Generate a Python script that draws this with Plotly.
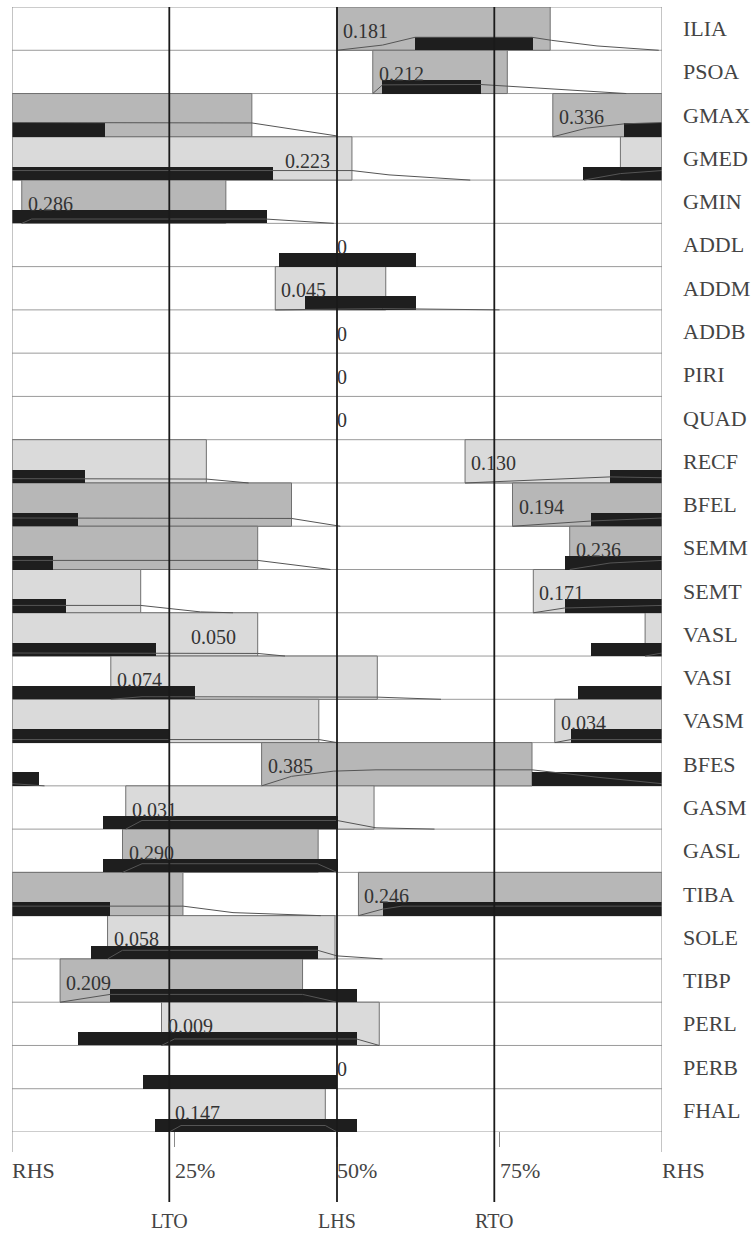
import plotly.graph_objects as go

# ---------------- data ----------------
muscles = ["ILIA", "PSOA", "GMAX", "GMED", "GMIN", "ADDL", "ADDM", "ADDB", "PIRI", "QUAD",
           "RECF", "BFEL", "SEMM", "SEMT", "VASL", "VASI", "VASM", "BFES", "GASM", "GASL",
           "TIBA", "SOLE", "TIBP", "PERL", "PERB", "FHAL"]

values = [0.181, 0.212, 0.336, 0.223, 0.286, 0, 0.045, 0, 0, 0,
          0.130, 0.194, 0.236, 0.171, 0.050, 0.074, 0.034, 0.385, 0.031, 0.290,
          0.246, 0.058, 0.209, 0.009, 0, 0.147]

significant = [1, 1, 1, 0, 1, 0, 0, 0, 0, 0,
               0, 1, 1, 0, 0, 0, 0, 1, 0, 1,
               1, 0, 1, 0, 0, 0]

# model activity interval (% of gait cycle); off < on means it wraps through 100 %
model_on = [50.0, 55.5, 83.2, 93.6, 1.5, None, 40.5, None, None, None,
            69.7, 77.0, 85.8, 80.2, 97.4, 15.2, 83.5, 38.4, 17.5, 17.0,
            53.3, 14.7, 7.4, 23.0, None, 24.2]
model_off = [82.8, 76.2, 36.9, 52.3, 32.9, None, 57.5, None, None, None,
             29.9, 43.0, 37.8, 19.8, 37.8, 56.2, 47.2, 80.0, 55.7, 47.1,
             26.3, 49.7, 44.7, 56.5, None, 48.2]

# EMG on/off interval (% of gait cycle)
emg_on = [62.0, 56.9, 94.2, 87.9, 0.0, 41.0, 45.1, None, None, None,
          92.0, 89.1, 85.0, 85.0, 89.1, 87.0, 86.0, 80.0, 14.0, 14.0,
          57.0, 12.2, 15.1, 10.1, 20.1, 22.0]
emg_off = [80.1, 72.2, 14.3, 40.2, 39.2, 62.1, 62.1, None, None, None,
           11.2, 10.1, 6.3, 8.3, 22.1, 28.2, 24.3, 4.2, 50.1, 50.1,
           15.1, 47.1, 53.1, 53.1, 50.0, 53.1]

# normalised muscle force profile: (% gait cycle, fraction of row height)
force_curves = {
    "ILIA": [(50, 0), (57, 0.12), (62, 0.3), (80, 0.3), (83, 0.23), (90, 0.1), (99.5, 0)],
    "PSOA": [(55.5, 0), (57, 0.2), (72, 0.21), (76, 0.17), (94.5, 0)],
    "GMAX": [(83.2, 0), (88.4, 0.2), (94.2, 0.3), (100, 0.33), (0, 0.33), (36.9, 0.32), (50, 0.02)],
    "GMED": [(88, 0), (93.6, 0.15), (100, 0.22), (0, 0.22), (52.3, 0.22), (58, 0.12), (70.5, 0)],
    "GMIN": [(1.5, 0), (3, 0.1), (39, 0.1), (49.5, 0)],
    "ADDM": [(40.5, 0), (57, 0.03), (75, 0)],
    "RECF": [(69.7, 0), (92, 0.14), (100, 0.12), (0, 0.1), (29.9, 0.09), (36.4, 0)],
    "BFEL": [(77, 0), (89, 0.12), (100, 0.19), (0, 0.19), (43, 0.18), (50.5, 0)],
    "SEMM": [(85.8, 0), (92, 0.15), (100, 0.21), (0, 0.21), (37.8, 0.21), (49, 0)],
    "SEMT": [(80.2, 0), (85, 0.11), (100, 0.17), (0, 0.17), (19.8, 0.17), (29, 0.02), (34, 0)],
    "VASL": [(97.4, 0), (100, 0.07), (0, 0.07), (37.8, 0.06), (42, 0)],
    "VASI": [(15.2, 0), (20, 0.06), (56.2, 0.05), (66, 0)],
    "VASM": [(83.5, 0), (86, 0.07), (100, 0.07), (0, 0.07), (47.2, 0.07), (50, 0)],
    "BFES": [(38.4, 0), (43, 0.22), (49.5, 0.34), (56, 0.37), (80, 0.37), (90, 0.2), (100, 0.05), (0, 0.05), (5, 0)],
    "GASM": [(17.5, 0), (20, 0.2), (50, 0.2), (56, 0.03), (65, 0)],
    "GASL": [(17, 0), (20, 0.2), (47, 0.2), (50, 0)],
    "TIBA": [(53.3, 0), (57, 0.15), (60, 0.22), (100, 0.22), (0, 0.22), (26.3, 0.22), (34, 0.07), (47.5, 0)],
    "SOLE": [(14.7, 0), (17, 0.2), (47, 0.2), (50, 0.07), (57, 0)],
    "TIBP": [(7.4, 0), (15.1, 0.18), (44.7, 0.18), (50, 0)],
    "PERL": [(23, 0), (25, 0.15), (53, 0.15), (56.5, 0)],
    "FHAL": [(24.2, 0), (26, 0.15), (48.2, 0.15), (50, 0)],
}

event_names = ["LTO", "LHS", "RTO"]
event_pos = [24.2, 50.0, 74.2]

tick_pos = [0, 25, 50, 75, 100]
tick_text = ["RHS", "25%", "50%", "75%", "RHS"]

# ---------------- styling ----------------
SERIF = "Liberation Serif, Times New Roman, serif"
DARK_GREY = "#b7b7b7"
LIGHT_GREY = "#dadada"
BAR_H = 0.31          # EMG bar height as fraction of a row
N = len(muscles)
PLOT_TOP_PX, PLOT_H_PX = 7, 1125


def segments(a, b):
    if a is None:
        return []
    if b < a:
        return [(a, 100.0), (0.0, b)]
    return [(a, b)]


fig = go.Figure()

# grey model-activity boxes (full row height)
bx, bb, by, bc = [], [], [], []
for i in range(N):
    for s, e in segments(model_on[i], model_off[i]):
        bb.append(s)
        bx.append(e - s)
        by.append(i + 0.5)
        bc.append(DARK_GREY if significant[i] else LIGHT_GREY)
fig.add_trace(go.Bar(orientation="h", base=bb, x=bx, y=by, width=1.0,
                     marker=dict(color=bc, line=dict(color="#707070", width=1)),
                     hoverinfo="skip"))

# black EMG bars at the bottom of each row
ex, eb, ey = [], [], []
for i in range(N):
    for s, e in segments(emg_on[i], emg_off[i]):
        eb.append(s)
        ex.append(e - s)
        ey.append(i + 1 - BAR_H / 2)
fig.add_trace(go.Bar(orientation="h", base=eb, x=ex, y=ey, width=BAR_H,
                     marker=dict(color="#1e1e1e", line=dict(width=0)),
                     hoverinfo="skip"))

# force curves
cx, cy = [], []
for i, m in enumerate(muscles):
    pts = force_curves.get(m)
    if not pts:
        continue
    prev = None
    for p, lev in pts:
        if prev is not None and p < prev:
            cx.append(None)
            cy.append(None)
        cx.append(p)
        cy.append(i + 1 - lev)
        prev = p
    cx.append(None)
    cy.append(None)
fig.add_trace(go.Scatter(x=cx, y=cy, mode="lines",
                         line=dict(color="#555555", width=1),
                         connectgaps=False, hoverinfo="skip"))

shapes = []
# row separators
for k in range(N + 1):
    shapes.append(dict(type="line", xref="x", yref="y", x0=0, x1=100, y0=k, y1=k,
                       line=dict(color="#9a9a9a", width=1), layer="below"))


def paper_y(px):
    return (PLOT_TOP_PX + PLOT_H_PX - px) / PLOT_H_PX


# borders and ticks below the plot
for p in tick_pos:
    bottom = 1152 if p in (0, 100) else 1147
    shapes.append(dict(type="line", xref="x", yref="paper", x0=p, x1=p,
                       y0=paper_y(bottom), y1=1 if p in (0, 100) else 0,
                       line=dict(color="#8a8a8a", width=1), layer="above"))
# gait event lines
for p in event_pos:
    shapes.append(dict(type="line", xref="x", yref="paper", x0=p, x1=p,
                       y0=paper_y(1202), y1=1,
                       line=dict(color="#1a1a1a", width=1.8), layer="above"))

annotations = []
# value labels
for i in range(N):
    on, off, v = model_on[i], model_off[i], values[i]
    if on is None:
        x, anchor, shift, txt = 50, "left", -2, "0"
    elif off < on and (100 - on) < 12:
        x, anchor, shift, txt = off, "right", -20, f"{v:.3f}"
    else:
        x, anchor, shift, txt = on, "left", 4, f"{v:.3f}"
    annotations.append(dict(x=x, y=i + 0.55, xref="x", yref="y", text=txt,
                            showarrow=False, xanchor=anchor, yanchor="middle",
                            xshift=shift,
                            font=dict(family=SERIF, size=20, color="#333333")))
# muscle names
for i, m in enumerate(muscles):
    annotations.append(dict(x=1.029, y=i + 0.5, xref="paper", yref="y", text=m,
                            showarrow=False, xanchor="left", yanchor="middle",
                            font=dict(family=SERIF, size=22, color="#444444")))
# tick labels
for p, t in zip(tick_pos, tick_text):
    annotations.append(dict(x=p, y=paper_y(1170), xref="x", yref="paper", text=t,
                            showarrow=False, xanchor="left", yanchor="middle",
                            xshift=-2,
                            font=dict(family=SERIF, size=22, color="#444444")))
# event labels
for p, t in zip(event_pos, event_names):
    annotations.append(dict(x=p, y=paper_y(1221), xref="x", yref="paper", text=t,
                            showarrow=False, xanchor="center", yanchor="middle",
                            font=dict(family=SERIF, size=20, color="#444444")))

fig.update_layout(
    width=754, height=1235, autosize=False,
    margin=dict(l=12, r=92, t=PLOT_TOP_PX, b=1235 - PLOT_TOP_PX - PLOT_H_PX),
    paper_bgcolor="white", plot_bgcolor="white",
    barmode="overlay", bargap=0, showlegend=False,
    xaxis=dict(range=[0, 100], visible=False, fixedrange=True),
    yaxis=dict(range=[N, 0], visible=False, fixedrange=True),
    shapes=shapes, annotations=annotations,
)

fig.write_html("out.html",
               config={"displayModeBar": False, "staticPlot": True},
               post_script="document.body.style.margin='0';"
                           "document.body.style.overflow='hidden';")
